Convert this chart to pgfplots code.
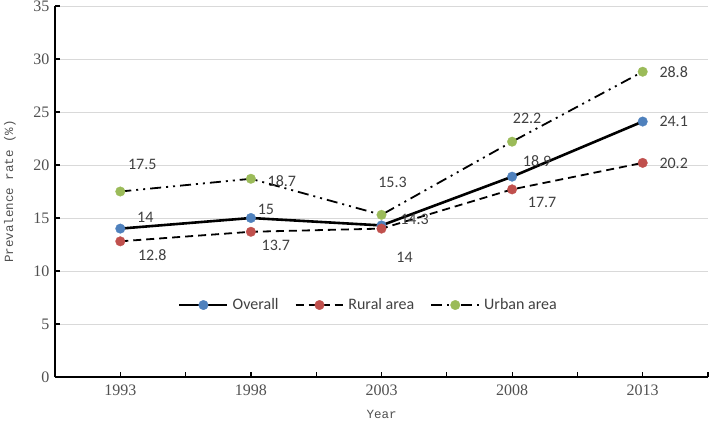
\documentclass[border=0pt]{standalone}
\usepackage{pgfplots}
\pgfplotsset{compat=1.18}
\usepackage{fontspec}
\setmainfont{Carlito}
\newfontfamily\tickfont{Liberation Serif}
\newfontfamily\labfont{Liberation Mono}
\definecolor{cblue}{HTML}{4F81BD}
\definecolor{cred}{HTML}{C0504D}
\definecolor{cgreen}{HTML}{9BBB59}
\definecolor{txt}{HTML}{404040}
\definecolor{tick}{HTML}{505050}
\definecolor{gridc}{HTML}{D9D9D9}
\newcommand{\lab}[5]{\node[font=\fontsize{16}{18}\selectfont, text=txt] at (axis cs:#1,#2) [xshift=#3pt,yshift=#4pt] {#5};}
\begin{document}
\begin{tikzpicture}
\useasboundingbox (0,0) rectangle (710pt,424pt);
\begin{axis}[
  at={(55pt,47pt)}, anchor=south west,
  scale only axis, width=653pt, height=371pt,
  xmin=-0.5, xmax=4.5, ymin=0, ymax=35,
  xtick={0,1,2,3,4}, xticklabels={1993,1998,2003,2008,2013},
  minor xtick={-0.5,0.5,1.5,2.5,3.5,4.5},
  ytick={0,5,...,35},
  axis x line*=bottom, axis y line*=left,
  axis line style={black, line width=1.8pt, -},
  tick style={black, line width=1.2pt},
  major tick length=5pt, minor tick length=5pt,
  tick align=inside,
  ymajorgrids, grid style={gridc, line width=0.9pt},
  /pgf/number format/assume math mode=true,
  ticklabel style={font=\tickfont\fontsize{16}{18}\selectfont, text=tick},
  xticklabel style={yshift=-4pt},
  yticklabel style={xshift=-2pt},
  xlabel={Year}, ylabel={Prevalence rate (\%)},
  label style={font=\labfont\fontsize{12.5}{14}\selectfont, text=tick},
  xlabel style={at={(axis description cs:0.5,0)}, anchor=center, yshift=-37pt},
  ylabel style={at={(axis description cs:-0.0689,0.5)}, anchor=center},
  legend columns=3,
  legend style={draw=none, fill=none, at={(0.48,0.194)}, anchor=center,
    font=\fontsize{16}{18}\selectfont, text=txt,
    /tikz/every even column/.append style={column sep=14pt},
    /tikz/every odd column/.append style={column sep=2pt}},
  legend image code/.code={\draw[mark repeat=2,mark phase=2] plot coordinates {(0pt,0pt) (24pt,0pt) (48pt,0pt)};},
  clip=false,
]
\addplot[black, line width=2.6pt, mark=*, mark size=4.8pt,
  mark options={solid, draw=cblue, fill=cblue, line width=0.3pt}]
  coordinates {(0,14) (1,15) (2,14.3) (3,18.9) (4,24.1)};
\addlegendentry{Overall}
\addplot[black, line width=1.8pt, dash pattern=on 8pt off 5pt, mark=*, mark size=4.8pt,
  mark options={solid, draw=cred, fill=cred, line width=0.3pt}]
  coordinates {(0,12.8) (1,13.7) (2,14) (3,17.7) (4,20.2)};
\addlegendentry{Rural area}
\addplot[black, line width=1.8pt, dash pattern=on 11pt off 5pt on 2pt off 5pt on 2pt off 5pt, mark=*, mark size=4.8pt,
  mark options={solid, draw=cgreen, fill=cgreen, line width=0.3pt}]
  coordinates {(0,17.5) (1,18.7) (2,15.3) (3,22.2) (4,28.8)};
\addlegendentry{Urban area}
\lab{0}{14}{25}{11}{14}
\lab{1}{15}{15}{9}{15}
\lab{2}{14.3}{33}{6}{14.3}
\lab{3}{18.9}{25}{16}{18.9}
\lab{4}{24.1}{31}{0}{24.1}
\lab{0}{12.8}{32}{-14}{12.8}
\lab{1}{13.7}{25}{-14}{13.7}
\lab{2}{14}{23}{-29}{14}
\lab{3}{17.7}{30}{-13}{17.7}
\lab{4}{20.2}{31}{0}{20.2}
\lab{0}{17.5}{22}{27}{17.5}
\lab{1}{18.7}{31}{-2}{18.7}
\lab{2}{15.3}{11}{32}{15.3}
\lab{3}{22.2}{15}{23}{22.2}
\lab{4}{28.8}{31}{0}{28.8}
\end{axis}
\end{tikzpicture}
\end{document}
